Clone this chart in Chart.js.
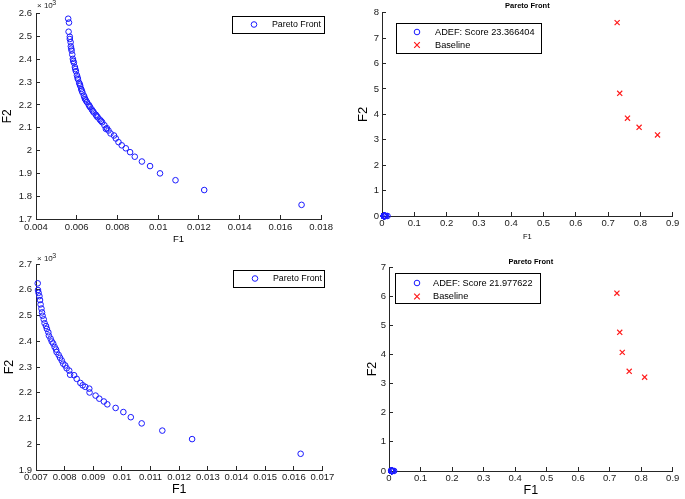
<!DOCTYPE html>
<html>
<head>
<meta charset="utf-8">
<script src="https://cdn.jsdelivr.net/npm/chart.js@4.4.0/dist/chart.umd.min.js"></script>
<style>
  body { margin: 0; background: #fff; width: 685px; height: 499px; position: relative; overflow: hidden; }
  canvas { position: absolute; }
</style>
</head>
<body>
<canvas id="c1" width="340" height="250" style="left:0;top:0"></canvas>
<canvas id="c2" width="345" height="250" style="left:340px;top:0"></canvas>
<canvas id="c3" width="340" height="249" style="left:0;top:250px"></canvas>
<canvas id="c4" width="345" height="249" style="left:340px;top:250px"></canvas>
<script>
// run 1 pareto front (top row)
const f1Run1 = [0.00558, 0.00562, 0.00560, 0.00566, 0.00566, 0.00570, 0.00571, 0.00573, 0.00575, 0.00578,
  0.00581, 0.00583, 0.00586, 0.00591, 0.00593, 0.00596, 0.00601, 0.00604, 0.00606, 0.00612,
  0.00615, 0.00617, 0.00622, 0.00625, 0.00628, 0.00635, 0.00638, 0.00641, 0.00645, 0.00650,
  0.00658, 0.00662, 0.00666, 0.00674, 0.00679, 0.00684, 0.00694, 0.00698, 0.00703, 0.00713,
  0.00719, 0.00725, 0.00736, 0.00743, 0.00748, 0.00756, 0.00766, 0.00783, 0.00792, 0.00805,
  0.00821, 0.00841, 0.00862, 0.00885, 0.00920, 0.00960, 0.01009, 0.01085, 0.01226, 0.01704]
const f2Run1 = [2.578e-3, 2.561e-3, 2.521e-3, 2.499e-3, 2.489e-3, 2.475e-3, 2.457e-3, 2.447e-3, 2.438e-3, 2.421e-3,
  2.402e-3, 2.393e-3, 2.385e-3, 2.366e-3, 2.357e-3, 2.348e-3, 2.330e-3, 2.320e-3, 2.313e-3, 2.297e-3,
  2.290e-3, 2.284e-3, 2.270e-3, 2.262e-3, 2.255e-3, 2.241e-3, 2.233e-3, 2.226e-3, 2.220e-3, 2.213e-3,
  2.202e-3, 2.196e-3, 2.190e-3, 2.180e-3, 2.173e-3, 2.167e-3, 2.157e-3, 2.151e-3, 2.146e-3, 2.136e-3,
  2.130e-3, 2.124e-3, 2.111e-3, 2.095e-3, 2.098e-3, 2.088e-3, 2.075e-3, 2.066e-3, 2.053e-3, 2.037e-3,
  2.023e-3, 2.010e-3, 1.993e-3, 1.973e-3, 1.952e-3, 1.932e-3, 1.900e-3, 1.870e-3, 1.827e-3, 1.762e-3]
const baseF1Run1 = [0.728, 0.736, 0.760, 0.796, 0.853]
const baseF2Run1 = [7.61, 4.83, 3.85, 3.49, 3.19]
const scoreRun1 = '23.366404'

// run 2 pareto front (bottom row)
const f1Run2 = [0.00706, 0.00707, 0.00709, 0.00712, 0.00714, 0.00716, 0.00719, 0.00721, 0.00723, 0.00727,
  0.00730, 0.00735, 0.00738, 0.00743, 0.00745, 0.00751, 0.00755, 0.00760, 0.00765, 0.00770,
  0.00772, 0.00779, 0.00784, 0.00790, 0.00795, 0.00802, 0.00807, 0.00816, 0.00819, 0.00833,
  0.00842, 0.00855, 0.00863, 0.00872, 0.00886, 0.00887, 0.00908, 0.00921, 0.00937, 0.00949,
  0.00978, 0.01005, 0.01031, 0.01069, 0.01141, 0.01245, 0.01624]
const f2Run2 = [2.625e-3, 2.599e-3, 2.588e-3, 2.575e-3, 2.560e-3, 2.543e-3, 2.527e-3, 2.512e-3, 2.499e-3, 2.485e-3,
  2.470e-3, 2.459e-3, 2.448e-3, 2.435e-3, 2.422e-3, 2.410e-3, 2.399e-3, 2.391e-3, 2.378e-3, 2.368e-3,
  2.358e-3, 2.347e-3, 2.336e-3, 2.325e-3, 2.313e-3, 2.306e-3, 2.295e-3, 2.286e-3, 2.270e-3, 2.268e-3,
  2.254e-3, 2.238e-3, 2.229e-3, 2.223e-3, 2.216e-3, 2.201e-3, 2.189e-3, 2.177e-3, 2.166e-3, 2.155e-3,
  2.141e-3, 2.125e-3, 2.105e-3, 2.081e-3, 2.053e-3, 2.020e-3, 1.963e-3]
const baseF1Run2 = [0.723, 0.732, 0.740, 0.762, 0.811]
const baseF2Run2 = [6.10, 4.76, 4.07, 3.42, 3.22]
const scoreRun2 = '21.977622'

const FONT = '"Liberation Sans", Arial, sans-serif'
const AXIS = '#262626'

const pts = (xs, ys) => xs.map((x, i) => ({ x: x, y: ys[i] }))
const fmt = v => String(+(+v).toFixed(6))

const blueSet = (label, xs, ys) => ({
  label: label, data: pts(xs, ys), showLine: false, clip: false,
  pointStyle: 'circle', pointRadius: 2.8, pointHoverRadius: 2.8, pointBorderWidth: 1,
  pointBorderColor: '#1a1aff', pointBackgroundColor: 'rgba(0,0,0,0)', mark: 'o'
})
const redSet = (label, xs, ys) => ({
  label: label, data: pts(xs, ys), showLine: false, clip: false,
  pointStyle: 'crossRot', pointRadius: 3.6, pointHoverRadius: 3.6, pointBorderWidth: 1.2,
  pointBorderColor: '#ff1a1a', pointBackgroundColor: 'rgba(0,0,0,0)', mark: 'x'
})

// titles, x10^-3 label and matlab style legend box
const decor = {
  id: 'decor',
  afterDraw(chart, args, o) {
    const ctx = chart.ctx
    const ca = chart.chartArea
    ctx.save()
    ctx.fillStyle = '#000'
    if (o.title) {
      ctx.font = 'bold 7.5px ' + FONT
      ctx.textAlign = 'center'
      ctx.textBaseline = 'middle'
      ctx.fillText(o.title, (ca.left + ca.right) / 2, o.titleY)
    }
    if (o.exponent) {
      ctx.fillStyle = AXIS
      ctx.textAlign = 'left'
      ctx.textBaseline = 'middle'
      ctx.font = '8px ' + FONT
      ctx.fillText('\u00d7 10', ca.left + 1, o.expY)
      ctx.font = '7px ' + FONT
      ctx.fillText('-3', ca.left + 14, o.expY - 3)
    }
    if (o.legend) {
      const L = o.legend
      ctx.fillStyle = '#fff'
      ctx.fillRect(L.x, L.y, L.w, L.h)
      ctx.strokeStyle = '#000'
      ctx.lineWidth = 1
      ctx.strokeRect(L.x + 0.5, L.y + 0.5, L.w, L.h)
      ctx.font = L.font + 'px ' + FONT
      ctx.textAlign = 'left'
      ctx.textBaseline = 'middle'
      chart.data.datasets.forEach((ds, i) => {
        const y = L.y + L.row0 + i * L.rowH
        ctx.strokeStyle = ds.pointBorderColor
        ctx.lineWidth = ds.pointBorderWidth
        ctx.beginPath()
        if (ds.mark === 'o') {
          ctx.arc(L.mx, y, 2.8, 0, Math.PI * 2)
        } else {
          ctx.moveTo(L.mx - 2.8, y - 2.8); ctx.lineTo(L.mx + 2.8, y + 2.8)
          ctx.moveTo(L.mx + 2.8, y - 2.8); ctx.lineTo(L.mx - 2.8, y + 2.8)
        }
        ctx.stroke()
        ctx.fillStyle = '#000'
        ctx.fillText(ds.label, L.tx, y)
      })
    }
    ctx.restore()
  }
}
Chart.register(decor)

function makeChart(id, datasets, c) {
  const axisCommon = (min, max, step, cb) => ({
    type: 'linear', min: min, max: max,
    border: { display: true, color: AXIS, width: 1 },
    grid: { drawOnChartArea: false, drawTicks: true, tickLength: -4, color: AXIS },
    ticks: { stepSize: step, autoSkip: false, maxRotation: 0, color: '#1a1a1a',
      font: { family: FONT, size: 9.5 }, callback: cb }
  })
  const x = axisCommon(c.xMin, c.xMax, c.xStep, v => fmt(v))
  x.ticks.padding = c.xPad
  x.title = { display: true, text: 'F1', color: '#000', font: { family: FONT, size: c.xTitleSize }, padding: { top: 0, bottom: c.xTitlePad } }
  x.afterFit = s => { s.height = c.xH }
  const y = axisCommon(c.yMin, c.yMax, c.yStep, c.yCb || (v => fmt(v)))
  y.ticks.padding = c.yPad
  y.title = { display: true, text: 'F2', color: '#000', font: { family: FONT, size: c.yTitleSize }, padding: { top: c.yTitlePad, bottom: 0 } }
  y.afterFit = s => { s.width = c.yW }

  return new Chart(document.getElementById(id), {
    type: 'scatter',
    data: { datasets: datasets },
    options: {
      responsive: false, animation: false, events: [],
      layout: { padding: { top: c.padTop, right: c.padRight, left: 0, bottom: 0 } },
      scales: { x: x, y: y },
      plugins: { legend: { display: false }, tooltip: { enabled: false }, decor: c.decor }
    }
  })
}

const milli = v => String(Math.round(v * 1e4) / 10)

makeChart('c1', [blueSet('Pareto Front', f1Run1, f2Run1)], {
  xMin: 0.004, xMax: 0.018, xStep: 0.002, yMin: 0.0017, yMax: 0.0026, yStep: 0.0001, yCb: milli,
  padTop: 11, padRight: 18, yW: 36, xH: 31, xPad: 7, yPad: 8,
  xTitleSize: 9.5, xTitlePad: 5, yTitleSize: 12, yTitlePad: 0,
  decor: { exponent: true, expY: 6, legend: { x: 232, y: 16, w: 92, h: 17, row0: 8.5, rowH: 13, mx: 254, tx: 272, font: 8.8 } }
})

makeChart('c2', [blueSet('ADEF: Score ' + scoreRun1, f1Run1, f2Run1), redSet('Baseline', baseF1Run1, baseF2Run1)], {
  xMin: 0, xMax: 0.9, xStep: 0.1, yMin: 0, yMax: 8, yStep: 1,
  padTop: 11, padRight: 7, yW: 42, xH: 34, xPad: 5.7, yPad: 7,
  xTitleSize: 7.5, xTitlePad: 8.8, yTitleSize: 13, yTitlePad: 15.5,
  decor: { title: 'Pareto Front', titleY: 6, legend: { x: 56, y: 23, w: 145, h: 30, row0: 9, rowH: 13, mx: 77, tx: 95, font: 9.2 } }
})

makeChart('c3', [blueSet('Pareto Front', f1Run2, f2Run2)], {
  xMin: 0.007, xMax: 0.017, xStep: 0.001, yMin: 0.0019, yMax: 0.0027, yStep: 0.0001, yCb: milli,
  padTop: 14, padRight: 17, yW: 36, xH: 29, xPad: 5.7, yPad: 8,
  xTitleSize: 12.5, xTitlePad: 2.2, yTitleSize: 12.5, yTitlePad: 2,
  decor: { exponent: true, expY: 9, legend: { x: 233, y: 20, w: 91, h: 17, row0: 8.5, rowH: 13, mx: 255, tx: 273, font: 8.8 } }
})

makeChart('c4', [blueSet('ADEF: Score ' + scoreRun2, f1Run2, f2Run2), redSet('Baseline', baseF1Run2, baseF2Run2)], {
  xMin: 0, xMax: 0.9, xStep: 0.1, yMin: 0, yMax: 7, yStep: 1,
  padTop: 17, padRight: 11, yW: 49, xH: 28, xPad: 5.7, yPad: 7,
  xTitleSize: 12.5, xTitlePad: 0.8, yTitleSize: 12.5, yTitlePad: 25,
  decor: { title: 'Pareto Front', titleY: 12, legend: { x: 55, y: 23, w: 145, h: 30, row0: 10, rowH: 13.5, mx: 77, tx: 93, font: 9.2 } }
})
</script>
</body>
</html>
